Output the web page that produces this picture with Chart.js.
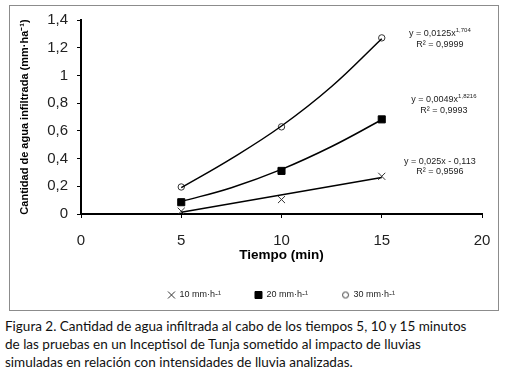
<!DOCTYPE html>
<html>
<head>
<meta charset="utf-8">
<script src="https://cdn.jsdelivr.net/npm/chart.js@4"></script>
<style>
  body { margin: 0; background: #fff; width: 505px; height: 370px; overflow: hidden; position: relative; }
  #box { position: absolute; left: 9px; top: 5px; width: 488px; height: 304px; border: 1px solid #8c8c8c; }
  #wrap { position: absolute; left: 0; top: 0; width: 488px; height: 304px; }
  #caption { position: absolute; left: 5px; top: 317px; font-family: Lato, sans-serif; font-size: 13.5px; line-height: 18px; color: #111; }
</style>
</head>
<body>
<div id="box"><div id="wrap"><canvas id="c"></canvas></div></div>
<div id="caption">Figura 2. Cantidad de agua infiltrada al cabo de los tiempos 5, 10 y 15 minutos<br>de las pruebas en un Inceptisol de Tunja sometido al impacto de lluvias<br>simuladas en relación con intensidades de lluvia analizadas.</div>
<script>
// values
const times = [5, 10, 15];
const rain10 = [0.02, 0.104, 0.272];
const rain20 = [0.085, 0.311, 0.683];
const rain30 = [0.195, 0.629, 1.271];

// fitted trend lines as drawn in the figure
const trendTimes10 = [5, 15];
const trend10 = [0.013, 0.263];
const trendTimes = [5, 7.5, 10, 12.5, 15];
const trend20 = [0.09, 0.19, 0.322, 0.487, 0.68];
const trend30 = [0.19, 0.40, 0.635, 0.92, 1.265];

const seriesNames = ['10 mm·h-¹', '20 mm·h-¹', '30 mm·h-¹'];
const xTicks = [0, 5, 10, 15, 20];

// equation labels: [main, superscript, r2, x value, y value line 1, y value line 2]
const equations = [
  ['y = 0,0125x', '1,704', 'R² = 0,9999', 17.9, 1.305, 1.225],
  ['y = 0,0049x', '1,8216', 'R² = 0,9993', 18.1, 0.824, 0.744],
  ['y = 0,025x - 0,113', '', 'R² = 0,9596', 17.9, 0.379, 0.306]
];

const pts = (xs, ys) => xs.map((x, i) => ({ x: x, y: ys[i] }));

// small circle for the legend (the default legend marker is too big)
const ring = document.createElement('canvas');
ring.width = 9; ring.height = 9;
const rc = ring.getContext('2d');
rc.strokeStyle = '#333'; rc.lineWidth = 1;
rc.beginPath(); rc.arc(4.5, 4.5, 3, 0, Math.PI * 2); rc.stroke();

const equationLabels = {
  id: 'equationLabels',
  afterDatasetsDraw(chart) {
    const ctx = chart.ctx;
    const xs = chart.scales.x, ys = chart.scales.y;
    ctx.save();
    ctx.fillStyle = '#222';
    ctx.textBaseline = 'middle';
    ctx.textAlign = 'left';
    equations.forEach(e => {
      const cx = xs.getPixelForValue(e[3]);
      ctx.font = '9px Arial';
      const w1 = ctx.measureText(e[0]).width;
      ctx.font = '6px Arial';
      const w2 = e[1] ? ctx.measureText(e[1]).width : 0;
      const y1 = ys.getPixelForValue(e[4]);
      let x0 = cx - (w1 + w2) / 2;
      ctx.font = '9px Arial';
      ctx.fillText(e[0], x0, y1);
      if (e[1]) {
        ctx.font = '6px Arial';
        ctx.fillText(e[1], x0 + w1, y1 - 3);
      }
      ctx.font = '9px Arial';
      ctx.textAlign = 'center';
      ctx.fillText(e[2], cx, ys.getPixelForValue(e[5]));
      ctx.textAlign = 'left';
    });
    ctx.restore();
  }
};

const trendStyle = { showLine: true, borderColor: '#000', borderWidth: 1.5, pointRadius: 0, fill: false };

new Chart(document.getElementById('c'), {
  type: 'scatter',
  data: {
    datasets: [
      Object.assign({ label: 't10', data: pts(trendTimes10, trend10) }, trendStyle),
      Object.assign({ label: 't20', data: pts(trendTimes, trend20), tension: 0.4 }, trendStyle),
      Object.assign({ label: 't30', data: pts(trendTimes, trend30), tension: 0.4 }, trendStyle),
      { label: seriesNames[0], data: pts(times, rain10), pointStyle: 'crossRot', pointRadius: 5,
        borderColor: '#333', backgroundColor: '#333', borderWidth: 1 },
      { label: seriesNames[1], data: pts(times, rain20), pointStyle: 'rect', pointRadius: 5,
        borderColor: '#000', backgroundColor: '#000', borderWidth: 1 },
      { label: seriesNames[2], data: pts(times, rain30), pointStyle: 'circle', pointRadius: 3.2,
        borderColor: '#333', backgroundColor: '#fff', borderWidth: 1 }
    ]
  },
  options: {
    responsive: true,
    maintainAspectRatio: false,
    animation: false,
    layout: { padding: { top: 14, right: 16, bottom: 0.5, left: 0 } },
    scales: {
      x: {
        type: 'linear', min: 0, max: 20,
        afterBuildTicks: s => { s.ticks = xTicks.map(v => ({ value: v })); },
        afterFit: s => { s.height = 42.5; s.paddingLeft = 0; s.paddingRight = 0; },
        border: { display: true, color: '#000', width: 2 },
        grid: { display: true, drawOnChartArea: false, drawTicks: true, tickLength: 4, color: '#000' },
        ticks: { font: { family: 'Arial', size: 15 }, color: '#222', padding: 14 },
        title: { display: true, text: 'Tiempo (min)', font: { family: 'Arial', size: 13.5, weight: 'bold' },
          color: '#000', padding: { top: 0, bottom: -7 } }
      },
      y: {
        min: 0, max: 1.4,
        ticks: { stepSize: 0.2, font: { family: 'Arial', size: 15 }, color: '#222', padding: 9,
          callback: v => String(Number(v.toFixed(1))).replace('.', ',') },
        afterFit: s => { s.width = 71; s.paddingTop = 0; s.paddingBottom = 0; },
        border: { display: true, color: '#000', width: 2 },
        grid: { display: true, drawOnChartArea: false, drawTicks: true, tickLength: 4, color: '#000' },
        title: { display: true, text: 'Cantidad de agua infiltrada (mm·ha⁻¹)',
          font: { family: 'Arial', size: 11, weight: 'bold' }, color: '#000', padding: { top: 8, bottom: 0 } }
      }
    },
    plugins: {
      tooltip: { enabled: false },
      legend: {
        position: 'bottom',
        fullSize: false,
        labels: {
          usePointStyle: true, boxWidth: 7, boxHeight: 7, padding: 34,
          font: { family: 'Arial', size: 9 }, color: '#222',
          filter: item => item.datasetIndex >= 3,
          generateLabels: chart => Chart.defaults.plugins.legend.labels.generateLabels(chart).map(it => {
            if (it.datasetIndex === 5) it.pointStyle = ring;
            return it;
          })
        }
      }
    }
  },
  plugins: [equationLabels]
});
</script>
</body>
</html>
